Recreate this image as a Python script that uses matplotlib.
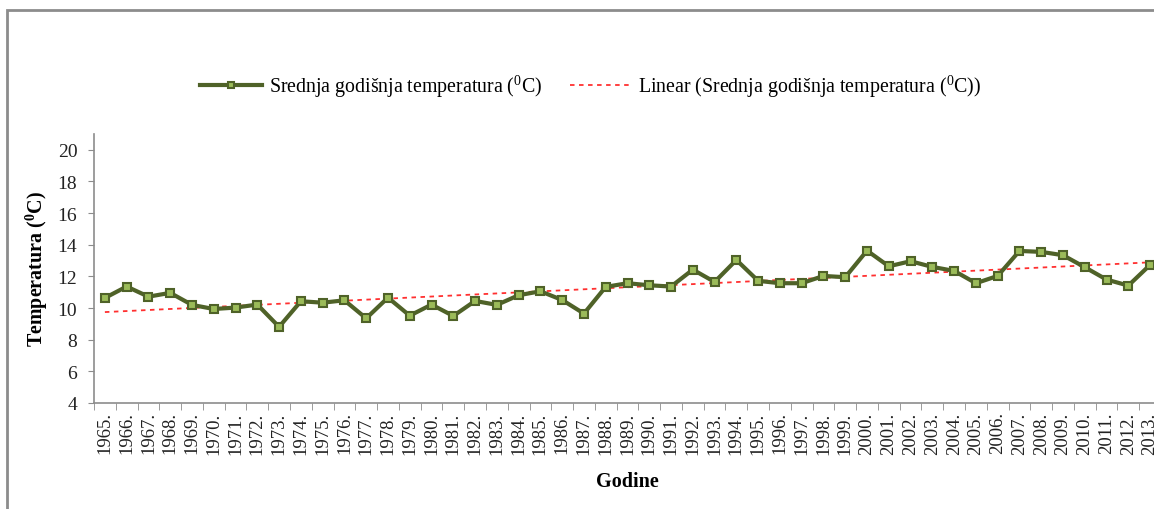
import numpy as np
import matplotlib.pyplot as plt
from matplotlib.patches import Rectangle

plt.rcParams['font.family'] = ['Liberation Serif', 'DejaVu Serif']
plt.rcParams['mathtext.fontset'] = 'custom'
plt.rcParams['mathtext.rm'] = 'Liberation Serif'
plt.rcParams['mathtext.bf'] = 'Liberation Serif:bold'

# Mean annual temperature per year
years = list(range(1965, 2014))
temps = [10.64, 11.36, 10.72, 10.96, 10.20, 9.94, 10.03, 10.22, 8.81, 10.43,
         10.34, 10.49, 9.35, 10.66, 9.52, 10.22, 9.50, 10.45, 10.20, 10.81,
         11.06, 10.51, 9.65, 11.34, 11.57, 11.44, 11.36, 12.43, 11.65, 13.04,
         11.72, 11.57, 11.57, 12.03, 11.95, 13.63, 12.64, 12.96, 12.60, 12.35,
         11.57, 12.03, 13.61, 13.55, 13.34, 12.58, 11.80, 11.42, 12.73]
year_labels = [f'{y}.' for y in years]
y_ticks = [4, 6, 8, 10, 12, 14, 16, 18, 20]

W, H = 1154, 510
fig = plt.figure(figsize=(W / 100, H / 100), dpi=100)

# outer chart frame (cut off at right and bottom)
fig.patches.append(Rectangle((7 / W, -0.1), 1.2, (H - 11) / H + 0.1,
                             transform=fig.transFigure, fill=False,
                             edgecolor='#8c8c8c', linewidth=2))

ax = fig.add_axes([94 / W, (H - 404) / H, 1067 / W, 269 / H])

x = np.arange(len(years))
ax.plot(x, temps, color='#4f6228', linewidth=3, marker='s', markersize=5.5,
        markerfacecolor='#9bbb59', markeredgecolor='#4f6228', markeredgewidth=1.5,
        label='Srednja godišnja temperatura ($^{0}$C)', zorder=3)

k, b = np.polyfit(x, temps, 1)
ax.plot(x, k * x + b, color='#ff3030', linestyle=(0, (2.5, 2.5)), linewidth=1.3,
        label='Linear (Srednja godišnja temperatura ($^{0}$C))', zorder=2)

ax.set_xlim(-0.5, len(years) - 0.5)
ax.set_ylim(4, 21)
ax.set_yticks(y_ticks)
ax.set_xticks(x)
ax.set_xticklabels(year_labels, rotation=90)
ax.set_xticks(np.arange(-0.5, len(years), 1), minor=True)
ax.tick_params(axis='x', which='major', length=0, labelsize=13.5, pad=6,
               labelcolor='#222222')
ax.tick_params(axis='x', which='minor', length=5, color='#8c8c8c')
ax.tick_params(axis='y', length=4, color='#8c8c8c', labelsize=14,
               labelcolor='#222222', pad=8)

for s in ['top', 'right']:
    ax.spines[s].set_visible(False)
for s in ['left', 'bottom']:
    ax.spines[s].set_color('#8c8c8c')
    ax.spines[s].set_linewidth(1.2)

ax.set_ylabel('Temperatura ($\\mathbf{^{0}}$C)', fontsize=14.4, fontweight='bold')
ax.yaxis.set_label_coords(-44 / 1067, 0.5)
fig.text(627 / W, 1 - 482 / H, 'Godine', fontsize=14.5, fontweight='bold',
         ha='center', va='center')

fig.legend(loc='center', bbox_to_anchor=(591 / W, 1 - 87 / H), ncol=2,
           frameon=False, fontsize=14.3, handlelength=3.1, columnspacing=1.4,
           handletextpad=0.35, markerscale=0.8)

fig.savefig('out.png', dpi=100)
